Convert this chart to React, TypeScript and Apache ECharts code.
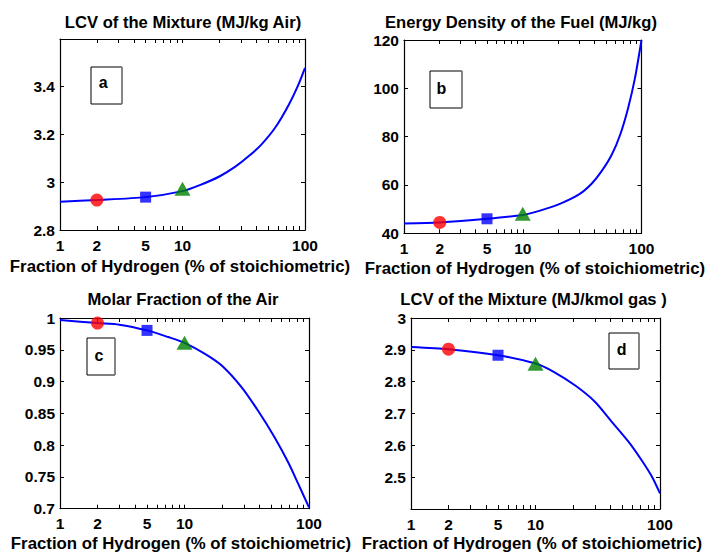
import React, { useEffect, useRef } from "react";
import * as echarts from "echarts";

// ---- data ----
const xTickLabels = [1, 2, 5, 10, 100];
const xTickMarks = [1, 2, 3, 4, 5, 6, 7, 8, 9, 10, 20, 30, 40, 50, 60, 70, 80, 90, 100];
const markerX = [2, 5, 10];

const titles = [
  "LCV of the Mixture (MJ/kg Air)",
  "Energy Density of the Fuel (MJ/kg)",
  "Molar Fraction of the Air",
  "LCV of the Mixture (MJ/kmol gas )",
];
const panelLetters = ["a", "b", "c", "d"];
const xAxisTitle = "Fraction of Hydrogen (% of stoichiometric)";

// (a) LCV of the mixture, MJ/kg air
const xA = [1, 2, 5, 10, 14, 20, 27, 35, 44, 57, 73, 88, 100];
const yA = [2.918, 2.925, 2.937, 2.962, 2.988, 3.023, 3.064, 3.109, 3.156, 3.226, 3.318, 3.404, 3.476];
const markA = [2.925, 2.937, 2.972];

// (b) energy density of the fuel, MJ/kg
const xB = [1, 2, 5, 10, 14, 21, 30, 38, 46, 56, 66, 77, 88, 100];
const yB = [44.1, 44.5, 46.0, 47.6, 49.4, 52.4, 56.2, 60.5, 65.6, 72.4, 80.7, 91.7, 104.1, 120];
const markB = [44.5, 46.0, 48.1];

// (c) molar fraction of the air
const xC = [1, 2, 3, 5, 7.4, 10, 14.6, 20, 28.8, 39, 53, 68, 82, 100];
const yC = [0.997, 0.992, 0.9895, 0.9805, 0.97, 0.961, 0.9437, 0.925, 0.891, 0.854, 0.812, 0.773, 0.739, 0.702];
const markC = [0.992, 0.9805, 0.961];

// (d) LCV of the mixture, MJ/kmol gas
const xD = [1, 2, 5, 10, 14, 21, 30, 41, 56, 71, 86, 100];
const yD = [2.909, 2.902, 2.883, 2.857, 2.831, 2.787, 2.737, 2.674, 2.611, 2.554, 2.502, 2.449];
const markD = [2.902, 2.883, 2.856];

const yRanges = [
  { min: 2.8, max: 3.596, interval: 0.2, hideMin: false, hideMax: true },
  { min: 40, max: 120, interval: 20, hideMin: false, hideMax: false },
  { min: 0.7, max: 1, interval: 0.05, hideMin: false, hideMax: false },
  { min: 2.4, max: 3, interval: 0.1, hideMin: true, hideMax: false },
];

// ---- layout ----
const grids = [
  { left: 60, top: 39, width: 245, height: 191 },
  { left: 404, top: 40, width: 237.5, height: 193.3 },
  { left: 60, top: 318, width: 249, height: 190.7 },
  { left: 411, top: 318, width: 249, height: 191 },
];
const titlePos = [
  [183, 22.5],
  [521, 22],
  [183, 299.5],
  [533.5, 299.5],
];
const namePos = [
  [180, 266],
  [535, 268],
  [181, 543],
  [532, 543],
];
const boxes = [
  { x: 91, y: 67, w: 31, h: 37, tx: 103.3, ty: 82 },
  { x: 430, y: 71, w: 32, h: 37, tx: 441.5, ty: 88 },
  { x: 87, y: 338, w: 28, h: 37, tx: 99, ty: 355 },
  { x: 609, y: 333, w: 30, h: 36, tx: 621.7, ty: 349 },
];

const FONT = '"Liberation Sans", Arial, Helvetica, sans-serif';
const lg = (v: number) => Math.log10(v);

export default function App() {
  const ref = useRef<HTMLDivElement>(null);

  useEffect(() => {
    if (!ref.current) return;
    const chart = echarts.init(ref.current, undefined, { renderer: "svg" });

    const curves = [
      [xA, yA, markA],
      [xB, yB, markB],
      [xC, yC, markC],
      [xD, yD, markD],
    ] as [number[], number[], number[]][];

    const xAxes: any[] = [];
    const yAxes: any[] = [];
    const series: any[] = [];
    const graphics: any[] = [];

    const axisLine = { show: true, onZero: false, lineStyle: { color: "#000", width: 1.2 } };

    grids.forEach((g, i) => {
      const xBase = {
        type: "value",
        gridIndex: i,
        min: 0,
        max: 2,
        splitLine: { show: false },
        axisLine,
        axisTick: {
          show: true,
          inside: true,
          length: 4,
          lineStyle: { color: "#000" },
          customValues: xTickMarks.map(lg),
        },
      };
      xAxes.push({
        ...xBase,
        position: "bottom",
        axisLabel: {
          show: true,
          margin: 7,
          color: "#000",
          fontFamily: FONT,
          fontWeight: "bold",
          fontSize: 15.5,
          customValues: xTickLabels.map(lg),
          formatter: (v: number) => String(Math.round(Math.pow(10, v))),
        },
      });
      xAxes.push({ ...xBase, position: "top", axisLabel: { show: false } });

      const r = yRanges[i];
      const yBase = {
        type: "value",
        gridIndex: i,
        min: r.min,
        max: r.max,
        interval: r.interval,
        splitLine: { show: false },
        axisLine,
        axisTick: { show: true, inside: true, length: 4, lineStyle: { color: "#000" } },
      };
      yAxes.push({
        ...yBase,
        position: "left",
        axisLabel: {
          show: true,
          margin: 5,
          color: "#000",
          fontFamily: FONT,
          fontWeight: "bold",
          fontSize: 15.5,
          showMinLabel: !r.hideMin,
          showMaxLabel: !r.hideMax,
        },
      });
      yAxes.push({ ...yBase, position: "right", axisLabel: { show: false } });

      const [xs, ys, marks] = curves[i];
      series.push({
        type: "line",
        xAxisIndex: 2 * i,
        yAxisIndex: 2 * i,
        data: xs.map((x, k) => [lg(x), ys[k]]),
        showSymbol: false,
        smooth: 0.25,
        lineStyle: { color: "#0000ff", width: 2 },
        z: 2,
      });
      const markerStyles = [
        { symbol: "circle", size: 13, color: "#ff0000" },
        { symbol: "rect", size: 11, color: "#0000ff" },
        { symbol: "triangle", size: [16, 14], color: "#008000" },
      ];
      markerStyles.forEach((m, k) => {
        series.push({
          type: "scatter",
          xAxisIndex: 2 * i,
          yAxisIndex: 2 * i,
          data: [[lg(markerX[k]), marks[k]]],
          symbol: m.symbol,
          symbolSize: m.size,
          itemStyle: { color: m.color },
          z: 3,
        });
      });

      graphics.push({
        type: "text",
        x: titlePos[i][0],
        y: titlePos[i][1],
        style: {
          text: titles[i],
          font: `bold 16.6px ${FONT}`,
          fill: "#000",
          textAlign: "center",
          textVerticalAlign: "middle",
        },
      });
      graphics.push({
        type: "text",
        x: namePos[i][0],
        y: namePos[i][1],
        style: {
          text: xAxisTitle,
          font: `bold 16.8px ${FONT}`,
          fill: "#000",
          textAlign: "center",
          textVerticalAlign: "middle",
        },
      });
      const b = boxes[i];
      graphics.push({
        type: "rect",
        shape: { x: b.x, y: b.y, width: b.w, height: b.h },
        style: { fill: "#fff", stroke: "#000", lineWidth: 1 },
        z: 10,
      });
      graphics.push({
        type: "line",
        shape: { x1: b.x + b.w, y1: b.y, x2: b.x + b.w, y2: b.y + b.h },
        style: { stroke: "#888", lineWidth: 1.5 },
        z: 11,
      });
      graphics.push({
        type: "text",
        x: b.tx,
        y: b.ty,
        z: 12,
        style: {
          text: panelLetters[i],
          font: `bold 16px ${FONT}`,
          fill: "#000",
          textAlign: "center",
          textVerticalAlign: "middle",
        },
      });
    });

    chart.setOption({
      animation: false,
      backgroundColor: "#fff",
      grid: grids.map((g) => ({ ...g, containLabel: false, outerBoundsMode: "none" })),
      xAxis: xAxes,
      yAxis: yAxes,
      series,
      graphic: graphics,
    });

    return () => chart.dispose();
  }, []);

  return (
    <div
      ref={ref}
      style={{ position: "absolute", left: 0, top: 0, width: 706, height: 554, background: "#fff" }}
    />
  );
}
